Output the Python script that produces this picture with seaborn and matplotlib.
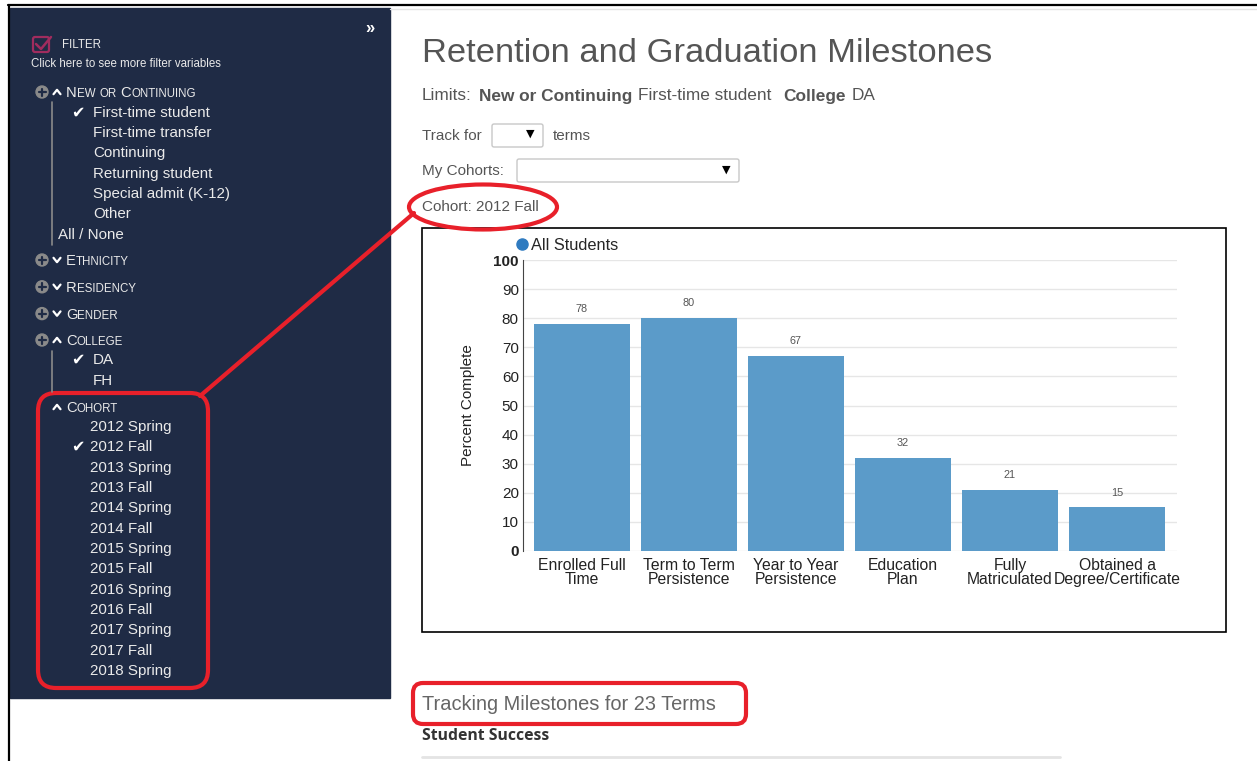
import matplotlib
matplotlib.use("Agg")
import matplotlib.pyplot as plt
import seaborn as sns
from matplotlib.patches import Rectangle, FancyBboxPatch, Ellipse, Circle
from matplotlib.lines import Line2D

# chart data
categories = ["Enrolled Full\nTime", "Term to Term\nPersistence", "Year to Year\nPersistence",
              "Education\nPlan", "Fully\nMatriculated", "Obtained a\nDegree/Certificate"]
percent_complete = [78, 80, 67, 32, 21, 15]
y_ticks = [0, 10, 20, 30, 40, 50, 60, 70, 80, 90, 100]

# sidebar filter lists
new_or_continuing = ["First-time student", "First-time transfer", "Continuing",
                     "Returning student", "Special admit (K-12)", "Other"]
collapsed_filters = ["Ethnicity", "Residency", "Gender"]
colleges = ["DA", "FH"]
cohorts = ["2012 Spring", "2012 Fall", "2013 Spring", "2013 Fall", "2014 Spring",
           "2014 Fall", "2015 Spring", "2015 Fall", "2016 Spring", "2016 Fall",
           "2017 Spring", "2017 Fall", "2018 Spring"]

W, H = 1257, 761
NAVY = "#1f2b45"
SIDE_TXT = "#eaeaea"
RED = "#e8202a"
BAR = "#5b9bc9"

sns.set_style("white")
plt.rcParams["font.family"] = ["Liberation Sans", "DejaVu Sans"]

fig = plt.figure(figsize=(W / 100, H / 100), dpi=100)
bg = fig.add_axes([0, 0, 1, 1])
bg.set_xlim(0, W)
bg.set_ylim(H, 0)
bg.axis("off")
renderer = fig.canvas.get_renderer()

# frame + sidebar
bg.plot([8, W], [5, 5], color="black", lw=1.6)
bg.plot([9, 9], [5, H], color="black", lw=1.6)
bg.plot([390, W], [9, 9], color="#e4e4e4", lw=1)
bg.add_patch(Rectangle((10, 8), 380, 690, color=NAVY, zorder=0))


def caret(x, y, up=True):
    d = 2.2 if up else -2.2
    bg.plot([x - 3.5, x, x + 3.5], [y + d, y - d, y + d], color="white", lw=1.6,
            solid_capstyle="round", solid_joinstyle="round")


def plus_icon(x, y):
    bg.add_patch(Circle((x, y), 6, color="#8a8a8a"))
    bg.plot([x - 3.5, x + 3.5], [y, y], color=NAVY, lw=1.6)
    bg.plot([x, x], [y - 3.5, y + 3.5], color=NAVY, lw=1.6)


def small_caps(x, y, s, big=10.6, small=8.3):
    # uppercase letters big, lowercase letters as small capitals
    for word in s.split(" "):
        i = 0
        while i < len(word):
            j = i
            upper = word[i].isupper()
            while j < len(word) and word[j].isupper() == upper:
                j += 1
            chunk = word[i:j]
            t = bg.text(x, y, chunk.upper(), fontsize=big if upper else small,
                        color=SIDE_TXT, va="baseline", ha="left")
            x += t.get_window_extent(renderer).width
            i = j
        x += 4


def check(x, y, size=11.5):
    bg.text(x, y, "\u2714", fontsize=size, color="white", va="center", ha="left",
            family="DejaVu Sans")


def item(x, y, s, size=10.9):
    bg.text(x, y, s, fontsize=size, color=SIDE_TXT, va="center", ha="left")


bg.text(370, 28, "\u00bb", fontsize=12, color="white", ha="center", va="center", weight="bold")
bg.add_patch(FancyBboxPatch((33, 37), 16, 15, boxstyle="round,pad=0,rounding_size=2",
                            fc="none", ec="#a02c5e", lw=1.6))
bg.plot([36, 41, 51], [44, 49, 37], color="#a02c5e", lw=1.8)
bg.text(62, 45, "FILTER", fontsize=8.3, color=SIDE_TXT, va="center")
bg.text(31, 64, "Click here to see more filter variables", fontsize=8.3, color=SIDE_TXT, va="center")

# New or Continuing group
plus_icon(42, 92)
caret(57, 92)
small_caps(66, 97, "New or Continuing")
bg.plot([52, 52], [102, 245], color="#8a8a8a", lw=1.2)
for k, name in enumerate(new_or_continuing):
    yy = 113 + 20.2 * k
    if k == 0:
        check(71, yy)
    item(93, yy, name)
item(58, 235, "All / None")

for k, name in enumerate(collapsed_filters):
    yy = 260 + 26.8 * k
    plus_icon(42, yy)
    caret(57, yy, up=False)
    small_caps(66, yy + 5, name)

plus_icon(42, 340)
caret(57, 340)
small_caps(66, 345, "College")
bg.plot([52, 52], [351, 392], color="#8a8a8a", lw=1.2)
for k, name in enumerate(colleges):
    yy = 360 + 21 * k
    if k == 0:
        check(71, yy)
    item(93, yy, name)

caret(57, 407)
small_caps(66, 412, "Cohort")
for k, name in enumerate(cohorts):
    yy = 427 + 20.33 * k
    if name == "2012 Fall":
        check(71, yy)
    item(90, yy, name)

# right side header
GREY = "#555555"
bg.text(422, 54, "Retention and Graduation Milestones", fontsize=24.8, color=GREY, va="center")
x0 = 422
for s, w, gap in [("Limits:", "normal", 7), ("New or Continuing", "bold", 6),
                  ("First-time student", "normal", 12), ("College", "bold", 6), ("DA", "normal", 0)]:
    t = bg.text(x0, 96, s, fontsize=12.4, color=GREY, weight=w, va="center")
    x0 += t.get_window_extent(renderer).width + gap
bg.text(422, 136, "Track for", fontsize=11, color=GREY, va="center")
bg.add_patch(FancyBboxPatch((492, 124), 51, 23, boxstyle="round,pad=0,rounding_size=2",
                            fc="white", ec="#c8c8c8", lw=1))
bg.text(530, 134, "\u25bc", fontsize=8, color="black", ha="center", va="center", family="DejaVu Sans")
bg.text(553, 136, "terms", fontsize=11, color=GREY, va="center")
bg.text(422, 171, "My Cohorts:", fontsize=11, color=GREY, va="center")
bg.add_patch(FancyBboxPatch((517, 159), 222, 23, boxstyle="round,pad=0,rounding_size=2",
                            fc="white", ec="#c8c8c8", lw=1))
bg.text(726, 170, "\u25bc", fontsize=8, color="black", ha="center", va="center", family="DejaVu Sans")
bg.text(422, 207, "Cohort: 2012 Fall", fontsize=11, color=GREY, va="center")

# chart box
bg.add_patch(Rectangle((422, 228), 804, 404, fc="white", ec="black", lw=1.2))

ax = fig.add_axes([523 / W, 1 - 551 / H, 654 / W, 291 / H])
sns.barplot(x=categories, y=percent_complete, color=BAR, saturation=1, width=0.9,
            linewidth=0, ax=ax)
ax.set_facecolor("none")
ax.set_xlim(-0.55, 5.56)
ax.set_ylim(0, 100)
ax.set_yticks(y_ticks)
ax.grid(axis="y", color="#e6e6e6", lw=1)
ax.set_axisbelow(True)
for side in ["top", "right", "bottom"]:
    ax.spines[side].set_visible(False)
ax.spines["left"].set_color("#444444")
ax.tick_params(axis="both", length=0, colors="#222222")
ax.tick_params(axis="x", pad=5, labelsize=11.3)
ax.tick_params(axis="y", pad=3, labelsize=11)
for lab in ax.get_yticklabels():
    if lab.get_text() in ("0", "100"):
        lab.set_weight("bold")
for lab in ax.get_xticklabels():
    lab.set_linespacing(0.95)
ax.set_ylabel("Percent Complete", fontsize=11, color="#222222")
ax.yaxis.set_label_coords(-0.074, 0.5)
ax.set_xlabel("")
ax.bar_label(ax.containers[0], padding=7, fontsize=7.8, color=GREY)
ax.legend(handles=[Line2D([], [], marker="o", ls="", color="#2f7bc0", markersize=8)],
          labels=["All Students"], loc="lower left", bbox_to_anchor=(-0.012, 1.025),
          frameon=False, handlelength=0.8, handletextpad=0.15, borderpad=0,
          borderaxespad=0, fontsize=11.8)

# annotations
bg.add_patch(Ellipse((483, 207), 148, 45, fc="none", ec=RED, lw=3))
bg.add_patch(FancyBboxPatch((38, 393), 170, 295, boxstyle="round,pad=0,rounding_size=18",
                            fc="none", ec=RED, lw=3))
bg.plot([200, 414], [396, 213], color=RED, lw=3)

bg.text(422, 705, "Tracking Milestones for 23 Terms", fontsize=14.4, color="#666666", va="center")
bg.add_patch(FancyBboxPatch((413, 683), 333, 41, boxstyle="round,pad=0,rounding_size=10",
                            fc="none", ec=RED, lw=3))
bg.text(422, 736, "Student Success", fontsize=11.3, color="#333333", weight="bold",
        va="center", family="Open Sans")
bg.plot([422, 1060], [757, 757], color="#e4e4e4", lw=2)

fig.savefig("out.png", dpi=100)
